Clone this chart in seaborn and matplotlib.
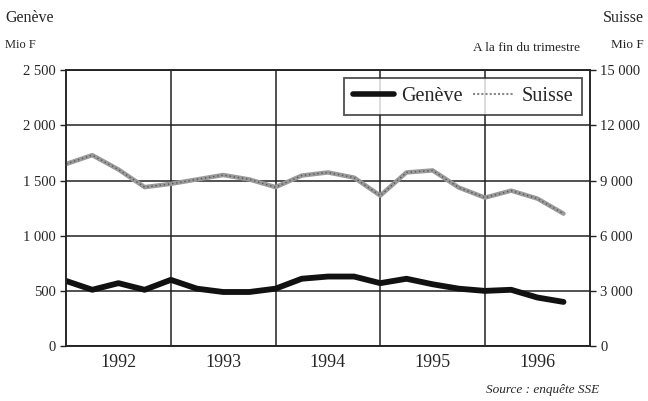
import matplotlib
matplotlib.use("Agg")
import matplotlib.pyplot as plt
import seaborn as sns
import pandas as pd
import numpy as np

# Data: quarterly values, 1992 Q1 .. 1996 Q4 (positions at quarter marks)
quarters = [1992 + i / 4 for i in range(20)]
geneve = [590, 510, 570, 510, 600, 520, 490, 490, 520, 610,
          630, 630, 570, 610, 560, 520, 500, 510, 440, 400]
suisse = [9900, 10380, 9600, 8640, 8820, 9060, 9300, 9060, 8640, 9270,
          9440, 9160, 8180, 9440, 9550, 8620, 8070, 8450, 8020, 7200]
years = [1992, 1993, 1994, 1995, 1996]
left_ticks = [0, 500, 1000, 1500, 2000, 2500]
left_labels = ["0", "500", "1 000", "1 500", "2 000", "2 500"]
right_ticks = [0, 3000, 6000, 9000, 12000, 15000]
right_labels = ["0", "3 000", "6 000", "9 000", "12 000", "15 000"]

df = pd.DataFrame({"x": quarters, "Genève": geneve, "Suisse": suisse})

sns.set_style("white")
plt.rcParams["font.family"] = ["Liberation Serif", "DejaVu Serif"]

fig = plt.figure(figsize=(6.48, 4.01), dpi=100)
ax = fig.add_axes([0.102, 0.137, 0.808, 0.688])
ax2 = ax.twinx()

sns.lineplot(data=df, x="x", y="Suisse", ax=ax2, color="#9a9a9a", linewidth=3.2,
             label="Suisse", legend=False)
ax2.plot(df["x"], df["Suisse"], color="#555555", linewidth=1.0, linestyle=(0, (1, 2)))
sns.lineplot(data=df, x="x", y="Genève", ax=ax, color="#111111", linewidth=4.2,
             label="Genève", legend=False)

ax.set_xlim(1992, 1997)
ax.set_ylim(0, 2500)
ax2.set_ylim(0, 15000)

# gridlines
for v in left_ticks:
    ax.axhline(v, color="#222222", linewidth=1.1, zorder=0)
for yr in years[1:]:
    ax.axvline(yr, color="#222222", linewidth=1.1, zorder=0)

ax.set_yticks(left_ticks)
ax.set_yticklabels(left_labels)
ax2.set_yticks(right_ticks)
ax2.set_yticklabels(right_labels)
ax.set_xticks([y + 0.5 for y in years])
ax.set_xticklabels([str(y) for y in years])
ax.set_xticks([1992 + i / 4 for i in range(21)], minor=True)
ax.tick_params(axis="x", which="major", length=0, labelsize=13, pad=6)
ax.tick_params(axis="x", which="minor", direction="in", length=5, width=1, color="#222222")
ax.tick_params(axis="y", length=4, width=1, labelsize=10.5, direction="out", color="#222222")
ax2.tick_params(axis="y", length=4, width=1, labelsize=10.5, direction="out", color="#222222")
ax.set_xlabel("")
ax.set_ylabel("")
ax2.set_ylabel("")
ax.grid(False)
ax2.grid(False)
for a in (ax, ax2):
    for s in a.spines.values():
        s.set_color("#222222")
        s.set_linewidth(1.1)

# legend
h1, = ax.plot([], [], color="#111111", linewidth=4)
h2, = ax.plot([], [], color="#888888", linewidth=1.5, linestyle=(0, (1, 1)))
leg = ax2.legend([h1, h2], ["Genève", "Suisse"], ncol=2, loc="upper right",
                 bbox_to_anchor=(0.99, 0.98), borderaxespad=0.1, fontsize=14.5,
                 frameon=True, fancybox=False, edgecolor="#222222", handlelength=2.0,
                 columnspacing=0.5, handletextpad=0.4, borderpad=0.45)
leg.get_frame().set_linewidth(1.3)

# annotations
fig.text(0.008, 0.955, "Genève", fontsize=11.5, ha="left", va="center")
fig.text(0.008, 0.888, "Mio F", fontsize=9, ha="left", va="center")
fig.text(0.993, 0.955, "Suisse", fontsize=11.5, ha="right", va="center")
fig.text(0.993, 0.888, "Mio F", fontsize=9.5, ha="right", va="center")
fig.text(0.895, 0.880, "A la fin du trimestre", fontsize=9.5, ha="right", va="center")
fig.text(0.925, 0.027, "Source : enquête SSE", fontsize=9.5, style="italic",
         ha="right", va="center")

fig.savefig("out.png", dpi=100)
